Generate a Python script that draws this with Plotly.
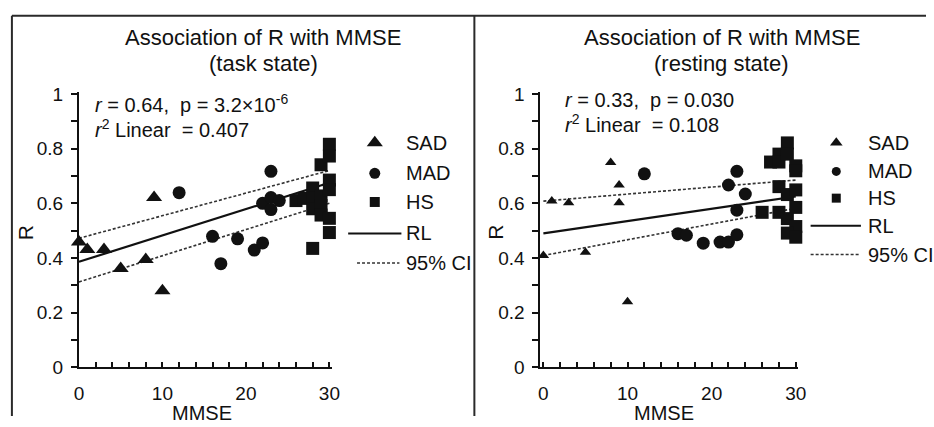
import plotly.graph_objects as go

# ---------------- data ----------------
# Task state
sad_x_task = [0, 1, 3, 5, 8, 9, 10]
sad_y_task = [0.458, 0.431, 0.431, 0.361, 0.394, 0.621, 0.28]
mad_x_task = [12, 16, 17, 19, 21, 22, 22, 23, 23, 23, 24]
mad_y_task = [0.639, 0.479, 0.379, 0.47, 0.429, 0.455, 0.60, 0.717, 0.621, 0.577, 0.61]
hs_x_task = [26, 27, 28, 28, 28, 28, 29, 29, 29, 29, 30, 30, 30, 30, 30, 30]
hs_y_task = [0.61, 0.618, 0.656, 0.62, 0.58, 0.435, 0.741, 0.627, 0.592, 0.557,
             0.816, 0.773, 0.685, 0.65, 0.545, 0.493]
rl_x = [0, 30]
rl_y_task = [0.386, 0.675]
ci_up_task = [0.472, 0.72]
ci_lo_task = [0.312, 0.60]

# Resting state
sad_x_rest = [0, 1, 3, 5, 8, 9, 9, 10]
sad_y_rest = [0.409, 0.608, 0.602, 0.421, 0.749, 0.667, 0.602, 0.24]
mad_x_rest = [12, 16, 17, 19, 21, 22, 22, 23, 23, 23, 24]
mad_y_rest = [0.708, 0.489, 0.483, 0.454, 0.458, 0.458, 0.667, 0.717, 0.575, 0.485, 0.634]
hs_x_rest = [26, 27, 28, 28, 29, 29, 30, 30, 28, 29, 30, 30, 28, 29, 30, 29, 30]
hs_y_rest = [0.567, 0.751, 0.78, 0.751, 0.821, 0.78, 0.737, 0.719, 0.661, 0.632,
             0.649, 0.585, 0.567, 0.544, 0.515, 0.491, 0.476]
rl_y_rest = [0.49, 0.625]
ci_up_rest = [0.608, 0.685]
ci_lo_rest = [0.409, 0.582]

titles = ["Association of R with MMSE", "Association of R with MMSE"]
subtitles = ["(task state)", "(resting state)"]
stats_line1 = ["<i>r</i> = 0.64,  p = 3.2×10<sup>-6</sup>", "<i>r</i> = 0.33,  p = 0.030"]
stats_line2 = ["<i>r</i><sup>2</sup> Linear  = 0.407", "<i>r</i><sup>2</sup> Linear  = 0.108"]
legend_labels = ["SAD", "MAD", "HS", "RL", "95% CI"]

# ---------------- layout helpers ----------------
W, H = 934, 427
def px(x):
    return x / W
def py(y):
    return 1 - y / H

FONT = "Arial, Liberation Sans, sans-serif"
INK = "#111111"

fig = go.Figure()

panels = [
    dict(xa="x", ya="y", sad=(sad_x_task, sad_y_task), mad=(mad_x_task, mad_y_task),
         hs=(hs_x_task, hs_y_task), rl=rl_y_task, up=ci_up_task, lo=ci_lo_task,
         tri=14, cir=13, sq=13),
    dict(xa="x2", ya="y2", sad=(sad_x_rest, sad_y_rest), mad=(mad_x_rest, mad_y_rest),
         hs=(hs_x_rest, hs_y_rest), rl=rl_y_rest, up=ci_up_rest, lo=ci_lo_rest,
         tri=10, cir=13, sq=13),
]

for p in panels:
    for yy in (p["up"], p["lo"]):
        fig.add_trace(go.Scatter(x=rl_x, y=yy, mode="lines", xaxis=p["xa"], yaxis=p["ya"],
                                 line=dict(color="#333333", width=1.6, dash="3px,2px"),
                                 showlegend=False, hoverinfo="skip"))
    fig.add_trace(go.Scatter(x=rl_x, y=p["rl"], mode="lines", xaxis=p["xa"], yaxis=p["ya"],
                             line=dict(color=INK, width=2.2), showlegend=False))
    fig.add_trace(go.Scatter(x=p["sad"][0], y=p["sad"][1], mode="markers", xaxis=p["xa"], yaxis=p["ya"],
                             marker=dict(symbol="triangle-up", size=p["tri"], color=INK),
                             showlegend=False, cliponaxis=False))
    fig.add_trace(go.Scatter(x=p["mad"][0], y=p["mad"][1], mode="markers", xaxis=p["xa"], yaxis=p["ya"],
                             marker=dict(symbol="circle", size=p["cir"], color=INK),
                             showlegend=False, cliponaxis=False))
    fig.add_trace(go.Scatter(x=p["hs"][0], y=p["hs"][1], mode="markers", xaxis=p["xa"], yaxis=p["ya"],
                             marker=dict(symbol="square", size=p["sq"], color=INK),
                             showlegend=False, cliponaxis=False))

# ---------------- custom legends (pixel overlay axis) ----------------
legends = [
    dict(rows=[141, 173, 203, 236, 267], mx=375, tx=405, rl=(348, 402), ci=(357, 400),
         sizes=(14, 11, 10)),
    dict(rows=[141, 171, 199, 228, 258], mx=843, tx=873, rl=(817, 868), ci=(817, 867),
         sizes=(11, 9, 9)),
]
syms = ["triangle-up", "circle", "square"]
annotations = []
shapes = []
for lg in legends:
    for i, s in enumerate(syms):
        fig.add_trace(go.Scatter(x=[lg["mx"]], y=[lg["rows"][i]], mode="markers",
                                 xaxis="x3", yaxis="y3",
                                 marker=dict(symbol=s, size=lg["sizes"][i], color=INK),
                                 showlegend=False, cliponaxis=False, hoverinfo="skip"))
    shapes.append(dict(type="line", xref="paper", yref="paper",
                       x0=px(lg["rl"][0]), x1=px(lg["rl"][1]),
                       y0=py(lg["rows"][3]), y1=py(lg["rows"][3]),
                       line=dict(color=INK, width=2)))
    shapes.append(dict(type="line", xref="paper", yref="paper",
                       x0=px(lg["ci"][0]), x1=px(lg["ci"][1]),
                       y0=py(lg["rows"][4]), y1=py(lg["rows"][4]),
                       line=dict(color="#333333", width=1.5, dash="3px,2px")))
    for i, lab in enumerate(legend_labels):
        annotations.append(dict(x=px(lg["tx"]), y=py(lg["rows"][i]), xref="paper", yref="paper",
                                text=lab, showarrow=False, xanchor="left", yanchor="middle",
                                font=dict(family=FONT, size=20, color=INK)))

# ---------------- titles, stats, axis titles ----------------
title_cx = [262, 727]
stat_x = [89, 566]
stat_y = [(100, 126), (96, 121)]
ylab_x = [21, 497]
xlab_cx = [200, 668]
for k in range(2):
    annotations.append(dict(x=px(title_cx[k]), y=py(31), xref="paper", yref="paper",
                            text=titles[k], showarrow=False, xanchor="center", yanchor="middle",
                            font=dict(family=FONT, size=22, color=INK)))
    annotations.append(dict(x=px(title_cx[k]), y=py(58), xref="paper", yref="paper",
                            text=subtitles[k], showarrow=False, xanchor="center", yanchor="middle",
                            font=dict(family=FONT, size=22, color=INK)))
    annotations.append(dict(x=px(stat_x[k]), y=py(stat_y[k][0]), xref="paper", yref="paper",
                            text=stats_line1[k], showarrow=False, xanchor="left", yanchor="middle",
                            font=dict(family=FONT, size=20, color=INK)))
    annotations.append(dict(x=px(stat_x[k]), y=py(stat_y[k][1]), xref="paper", yref="paper",
                            text=stats_line2[k], showarrow=False, xanchor="left", yanchor="middle",
                            font=dict(family=FONT, size=20, color=INK)))
    annotations.append(dict(x=px(ylab_x[k]), y=py(235), xref="paper", yref="paper",
                            text="R", textangle=-90, showarrow=False, xanchor="center", yanchor="middle",
                            font=dict(family=FONT, size=21, color=INK)))
    annotations.append(dict(x=px(xlab_cx[k]), y=py(424), xref="paper", yref="paper",
                            text="MMSE", showarrow=False, xanchor="center", yanchor="middle",
                            font=dict(family=FONT, size=20, color=INK)))

# ---------------- frame lines ----------------
frame = dict(color="#2a2a2a", width=2)
shapes += [
    dict(type="line", xref="paper", yref="paper", x0=px(7), x1=1, y0=py(8), y1=py(8), line=frame),
    dict(type="line", xref="paper", yref="paper", x0=px(7), x1=px(7), y0=py(8), y1=0, line=frame),
    dict(type="line", xref="paper", yref="paper", x0=px(476), x1=px(476), y0=py(8), y1=0, line=frame),
]

def xaxis_cfg(dom, rng):
    return dict(domain=dom, range=rng, showline=True, linecolor=INK, linewidth=2,
                showgrid=False, zeroline=False, ticks="inside", ticklen=5, tickwidth=1.5,
                tickcolor=INK, tick0=0, dtick=10, ticklabelstandoff=8,
                minor=dict(ticks="inside", ticklen=5, tickwidth=1.5, tickcolor=INK, dtick=2, tick0=0),
                tickfont=dict(family=FONT, size=19, color=INK), fixedrange=True)

def yaxis_cfg(dom, rng, anchor):
    return dict(domain=dom, range=rng, anchor=anchor, showline=True, linecolor=INK, linewidth=2,
                showgrid=False, zeroline=False, ticks="outside", ticklen=6, tickwidth=1.5,
                tickcolor=INK, tick0=0, dtick=0.2, ticklabelstandoff=4,
                minor=dict(ticks="outside", ticklen=6, tickwidth=1.5, tickcolor=INK, dtick=0.1, tick0=0),
                tickfont=dict(family=FONT, size=19, color=INK), fixedrange=True)

ydom = [py(376), py(88)]
fig.update_layout(
    width=W, height=H, autosize=False,
    margin=dict(l=0, r=0, t=0, b=0),
    paper_bgcolor="white", plot_bgcolor="rgba(0,0,0,0)",
    showlegend=False,
    xaxis=dict(**xaxis_cfg([px(75), px(331.5)], [0, 30.3]), anchor="y"),
    yaxis=yaxis_cfg(ydom, [0, 1.007], "x"),
    xaxis2=dict(**xaxis_cfg([px(543), px(804.5)], [-0.35, 30.3]), anchor="y2"),
    yaxis2=yaxis_cfg(ydom, [0, 1.007], "x2"),
    xaxis3=dict(domain=[0, 1], range=[0, W], visible=False, anchor="y3", fixedrange=True),
    yaxis3=dict(domain=[0, 1], range=[H, 0], visible=False, anchor="x3", fixedrange=True),
    annotations=annotations,
    shapes=shapes,
)

fig.write_html("out.html", config={"displayModeBar": False},
               post_script="document.body.style.margin='0px';document.body.style.overflow='hidden';")
